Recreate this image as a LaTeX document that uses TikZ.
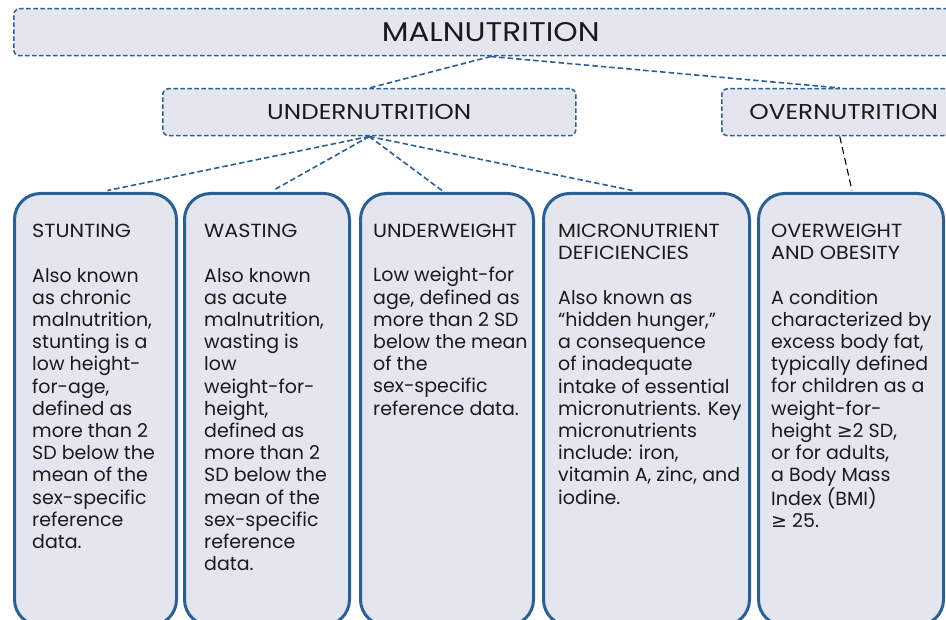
\documentclass[tikz,border=0pt]{standalone}
\usepackage{fontspec}
\setmainfont{Poppins}
\newfontfamily\symfont{DejaVu Sans}
\newfontfamily\capsfont[FakeStretch=1.09]{Poppins}
\newfontfamily\bigcaps[FakeStretch=1.15]{Poppins}
\usetikzlibrary{calc}
\definecolor{boxfill}{HTML}{E3E6EF}
\definecolor{boxblue}{HTML}{2C5F93}
\definecolor{ink}{HTML}{1A1A1A}
\begin{document}
\begin{tikzpicture}[x=1pt,y=-1pt,
  topbox/.style={draw=boxblue, fill=boxfill, dash pattern=on 4.5pt off 2.5pt, line width=1.5pt,
    rounded corners=6pt, inner sep=0pt, text=ink},
  catbox/.style={draw=boxblue, fill=boxfill, line width=3pt, rounded corners=26pt,
    anchor=north west, inner sep=0pt},
  bodytext/.style={anchor=north west, align=left, inner sep=0pt, text=ink,
    font=\fontsize{19}{22.2}\selectfont},
  link/.style={draw=boxblue, line width=1.6pt, dash pattern=on 5.5pt off 3pt},
  blacklink/.style={draw=black, line width=1.1pt, dash pattern=on 7pt off 4pt}]
\clip (0,0) rectangle (946,620);
\fill[white] (0,0) rectangle (946,620);

% top boxes
\node[topbox, anchor=north west, minimum width=954pt, minimum height=47pt,
  font=\bigcaps\fontsize{27}{30}\selectfont] (mal) at (13,8) {MALNUTRITION};
\node[topbox, anchor=north west, minimum width=413pt, minimum height=47pt,
  font=\bigcaps\fontsize{21.5}{24}\selectfont] (under) at (162,88) {UNDERNUTRITION};
\node[topbox, anchor=north west, minimum width=236pt, minimum height=47pt,
  font=\bigcaps\fontsize{21.5}{24}\selectfont] (over) at (721,88) {\hspace*{8pt}OVERNUTRITION};

% category boxes
\node[catbox, minimum width=162pt, minimum height=432pt] (stunt) at (13,192) {};
\node[catbox, minimum width=165pt, minimum height=432pt] (waste) at (183,192) {};
\node[catbox, minimum width=173pt, minimum height=432pt] (uw) at (359,192) {};
\node[catbox, minimum width=206pt, minimum height=432pt] (micro) at (542,192) {};
\node[catbox, minimum width=185pt, minimum height=432pt] (ow) at (757,192) {};

% connectors
\draw[link] (mal.south) -- (under.north);
\draw[link] (mal.south) -- (over.north);
\draw[link] (under.south) -- ([xshift=12pt,yshift=1.5pt]stunt.north);
\draw[link] (under.south) -- ([xshift=6pt,yshift=1.5pt]waste.north);
\draw[link] (under.south) -- ([xshift=-5pt,yshift=1.5pt]uw.north);
\draw[link] (under.south) -- ([xshift=-14pt,yshift=1.5pt]micro.north);
\draw[blacklink] (over.south) -- ([xshift=1pt,yshift=1.5pt]ow.north);

% texts
\node[bodytext] (t1) at (32,224) {{\capsfont STUNTING}\\[22.2pt]
Also known\\as chronic\\malnutrition,\\stunting is a\\low height-\\for-age,\\defined as\\more than 2\\SD below the\\mean of the\\sex-specific\\reference\\data.};
\node[bodytext] (t2) at (204,224) {{\capsfont WASTING}\\[22.2pt]
Also known\\as acute\\malnutrition,\\wasting is\\low\\weight-for-\\height,\\defined as\\more than 2\\SD below the\\mean of the\\sex-specific\\reference\\data.};
\node[bodytext] (t3) at (373,224) {{\capsfont UNDERWEIGHT}\\[22.2pt]
Low weight-for\\age, defined as\\more than 2 SD\\below the mean\\of the\\sex-specific\\reference data.};
\node[bodytext] (t4) at (558,224) {{\capsfont MICRONUTRIENT}\\{\capsfont DEFICIENCIES}\\[22.2pt]
Also known as\\“hidden hunger,”\\a consequence\\of inadequate\\intake of essential\\micronutrients. Key\\micronutrients\\include: iron,\\vitamin A, zinc, and\\iodine.};
\node[bodytext] (t5) at (771,224) {{\capsfont OVERWEIGHT}\\{\capsfont AND OBESITY}\\[22.2pt]
A condition\\characterized by\\excess body fat,\\typically defined\\for children as a\\weight-for-\\height {\symfont ≥}2 SD,\\or for adults,\\a Body Mass\\Index (BMI)\\{\symfont ≥} 25.};
\end{tikzpicture}
\end{document}
